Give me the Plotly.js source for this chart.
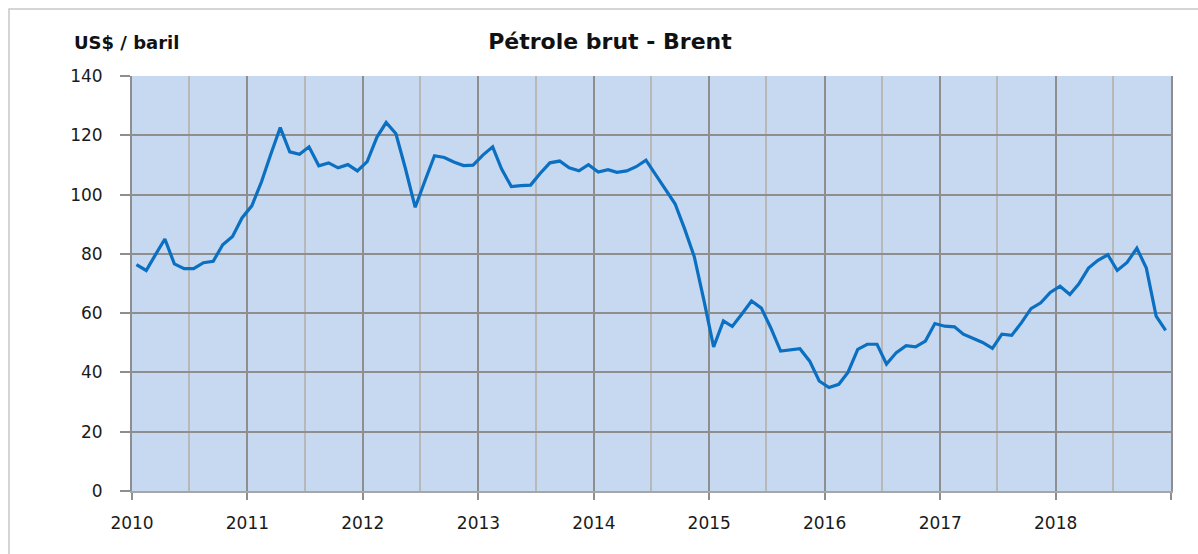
<!DOCTYPE html>
<html>
<head>
<meta charset="utf-8">
<script src="https://cdn.plot.ly/plotly-3.0.1.min.js"></script>
<style>
  html, body { margin: 0; padding: 0; background: #ffffff; }
  #chart { width: 1198px; height: 554px; }
</style>
</head>
<body>
<div id="chart"></div>
<script>
// Monthly Brent crude prices (US$ / barrel)
const years = [2010, 2011, 2012, 2013, 2014, 2015, 2016, 2017, 2018];
const brent2010 = [76.4, 74.4, 79.5, 85.0, 76.6, 75.0, 75.0, 77.0, 77.5, 83.1, 85.9, 92.1];
const brent2011 = [96.2, 104.4, 113.3, 122.6, 114.4, 113.6, 116.1, 109.7, 110.7, 109.0, 110.1, 108.0];
const brent2012 = [111.1, 119.4, 124.3, 120.5, 108.8, 95.7, 104.4, 113.1, 112.5, 111.0, 109.8, 109.9];
const brent2013 = [113.3, 116.1, 108.7, 102.7, 103.0, 103.2, 107.1, 110.7, 111.3, 109.0, 108.0, 110.1];
const brent2014 = [107.6, 108.4, 107.5, 108.0, 109.4, 111.6, 106.8, 101.9, 96.9, 88.5, 79.0, 64.5];
const brent2015 = [48.6, 57.4, 55.5, 59.8, 64.1, 61.7, 55.0, 47.2, 47.5, 48.0, 43.8, 37.1];
const brent2016 = [34.9, 36.0, 40.0, 47.8, 49.5, 49.5, 42.8, 46.7, 49.0, 48.6, 50.6, 56.5];
const brent2017 = [55.6, 55.4, 52.9, 51.4, 50.1, 48.1, 52.9, 52.5, 56.8, 61.5, 63.5, 67.0];
const brent2018 = [69.1, 66.3, 69.8, 75.2, 77.8, 79.7, 74.4, 77.1, 81.9, 75.2, 59.0, 54.2];
const yearLabels = ['2010', '2011', '2012', '2013', '2014', '2015', '2016', '2017', '2018', ''];
const yTicks = [0, 20, 40, 60, 80, 100, 120, 140];

const series = [brent2010, brent2011, brent2012, brent2013, brent2014, brent2015, brent2016, brent2017, brent2018];
const xs = [], ys = [];
series.forEach((vals, i) => {
  vals.forEach((v, m) => {
    const mm = String(m + 1).padStart(2, '0');
    xs.push(years[i] + '-' + mm + '-15');
    ys.push(v);
  });
});
const tickDates = yearLabels.map((_, i) => (2010 + i) + '-01-01');

const W = 1198, H = 554;
const M = {l: 132, r: 27, t: 76, b: 63};
const pw = W - M.l - M.r, ph = H - M.t - M.b;
const px = v => (v - M.l) / pw;
const py = v => (H - M.b - v) / ph;

const trace = {
  x: xs, y: ys, type: 'scatter', mode: 'lines',
  line: {color: '#0b6fc2', width: 3.2},
  hoverinfo: 'x+y'
};

const gridDark = '#8e8e8e';
const fam = 'DejaVu Sans, Verdana, sans-serif';
const layout = {
  width: W, height: H,
  margin: M,
  paper_bgcolor: '#ffffff',
  plot_bgcolor: '#c6d9f0',
  showlegend: false,
  font: {family: fam, color: '#1a1a1a', size: 17},
  title: {
    text: '<b>Pétrole brut - Brent</b>',
    font: {family: fam, size: 22, color: '#111'},
    x: 610 / W, xref: 'container', xanchor: 'center',
    y: 1 - 41 / H, yref: 'container', yanchor: 'middle'
  },
  xaxis: {
    type: 'date',
    range: ['2010-01-01', '2019-01-01'],
    tickmode: 'array',
    tickvals: tickDates,
    ticktext: yearLabels,
    ticks: 'outside', ticklen: 7, tickwidth: 2, tickcolor: '#8e8e8e',
    showgrid: true, gridcolor: gridDark, gridwidth: 2,
    minor: {dtick: 'M6', tick0: '2010-01-01', showgrid: true, gridcolor: '#b8b8b8', gridwidth: 2, ticks: ''},
    showline: true, linecolor: '#a6a6a6', linewidth: 2, mirror: false,
    zeroline: false,
    ticklabelstandoff: 9,
    tickfont: {size: 17, color: '#1a1a1a'},
    fixedrange: true
  },
  yaxis: {
    range: [0, 140],
    tickmode: 'array',
    tickvals: yTicks,
    ticks: 'outside', ticklen: 10, tickwidth: 2, tickcolor: '#8e8e8e',
    showgrid: true, gridcolor: gridDark, gridwidth: 2,
    showline: true, linecolor: '#8e8e8e', linewidth: 2, mirror: true,
    zeroline: false,
    ticklabelstandoff: 14,
    tickfont: {size: 17, color: '#1a1a1a'},
    fixedrange: true
  },
  annotations: [{
    text: '<b>US$ / baril</b>',
    xref: 'paper', yref: 'paper',
    x: px(72), y: py(43), xanchor: 'left', yanchor: 'middle',
    showarrow: false,
    font: {family: fam, size: 18, color: '#111'}
  }],
  shapes: [{
    type: 'rect', xref: 'paper', yref: 'paper', layer: 'below',
    x0: px(9), x1: px(1300), y0: py(700), y1: py(9),
    line: {color: '#c8c8c8', width: 1.5}, fillcolor: 'rgba(0,0,0,0)'
  }]
};

Plotly.newPlot('chart', [trace], layout, {staticPlot: true, displayModeBar: false});
</script>
</body>
</html>
